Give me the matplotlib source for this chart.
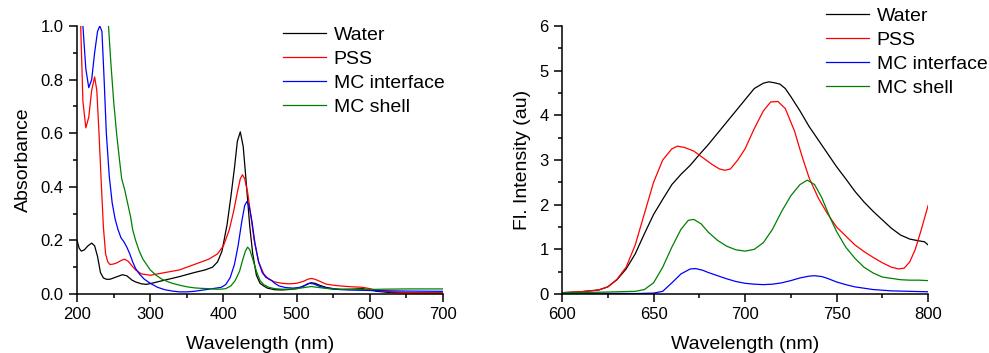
import numpy as np
import matplotlib
matplotlib.use('Agg')
import matplotlib.pyplot as plt
from matplotlib.ticker import MultipleLocator

plt.rcParams['font.family'] = ['Liberation Sans', 'DejaVu Sans']

labels = ['Water', 'PSS', 'MC interface', 'MC shell']
colors = ['#000000', '#ff0000', '#0000ff', '#008000']

# absorbance spectra (wavelength nm, absorbance)
abs_water_x = [200, 203, 206, 210, 215, 220, 224, 228, 232, 236, 240, 245, 250, 255, 262, 268, 275, 280, 288, 295,
               305, 320, 340, 360, 375, 385, 392, 398, 405, 410, 415, 419, 423, 427, 431, 436, 440, 445, 450, 455,
               460, 470, 480, 490, 500, 510, 515, 520, 525, 532, 540, 550, 560, 575, 590, 600, 610, 625, 640, 670, 700]
abs_water_y = [0.20, 0.17, 0.16, 0.165, 0.18, 0.19, 0.18, 0.14, 0.08, 0.06, 0.055, 0.055, 0.06, 0.065, 0.072, 0.068,
               0.052, 0.045, 0.038, 0.036, 0.042, 0.052, 0.065, 0.08, 0.09, 0.1, 0.12, 0.16, 0.26, 0.36, 0.47, 0.57,
               0.605, 0.55, 0.42, 0.25, 0.15, 0.07, 0.04, 0.03, 0.022, 0.016, 0.015, 0.017, 0.02, 0.03, 0.038, 0.042,
               0.04, 0.032, 0.025, 0.02, 0.017, 0.018, 0.02, 0.015, 0.01, 0.006, 0.005, 0.004, 0.004]

abs_pss_x = [200, 203, 205, 208, 212, 216, 220, 224, 227, 230, 233, 236, 239, 242, 245, 250, 255, 260, 265, 270,
             275, 280, 288, 300, 320, 340, 360, 380, 392, 400, 408, 414, 419, 423, 426, 429, 433, 437, 442, 448,
             455, 462, 470, 480, 490, 500, 510, 515, 520, 525, 532, 540, 550, 560, 575, 590, 600, 610, 630, 660, 700]
abs_pss_y = [1.6, 1.3, 1.0, 0.72, 0.62, 0.66, 0.76, 0.81, 0.76, 0.6, 0.42, 0.25, 0.15, 0.12, 0.11, 0.112, 0.117,
             0.125, 0.13, 0.122, 0.105, 0.09, 0.075, 0.07, 0.08, 0.09, 0.11, 0.13, 0.15, 0.18, 0.24, 0.31, 0.38,
             0.43, 0.445, 0.43, 0.38, 0.3, 0.2, 0.12, 0.075, 0.055, 0.045, 0.04, 0.038, 0.04, 0.048, 0.055, 0.058,
             0.055, 0.047, 0.037, 0.033, 0.03, 0.027, 0.025, 0.02, 0.013, 0.008, 0.005, 0.004]

abs_mci_x = [200, 204, 208, 212, 216, 220, 224, 228, 231, 234, 237, 240, 244, 248, 252, 256, 260, 264, 268, 272,
             276, 280, 285, 292, 300, 310, 320, 330, 340, 350, 360, 370, 380, 390, 397, 403, 409, 415, 420, 425,
             429, 432, 435, 439, 443, 448, 453, 458, 462, 466, 470, 476, 485, 495, 505, 512, 518, 524, 530, 540,
             550, 570, 600, 650, 700]
abs_mci_y = [1.4, 1.2, 1.0, 0.84, 0.77, 0.8, 0.9, 0.98, 1.0, 0.98, 0.8, 0.6, 0.44, 0.34, 0.28, 0.24, 0.21, 0.195,
             0.175, 0.15, 0.12, 0.095, 0.075, 0.055, 0.04, 0.025, 0.016, 0.011, 0.008, 0.008, 0.01, 0.014, 0.018,
             0.022, 0.025, 0.035, 0.06, 0.11, 0.18, 0.27, 0.33, 0.345, 0.33, 0.27, 0.19, 0.12, 0.08, 0.062, 0.057,
             0.05, 0.04, 0.03, 0.024, 0.022, 0.025, 0.033, 0.04, 0.037, 0.03, 0.022, 0.018, 0.015, 0.013, 0.011, 0.01]

abs_mcs_x = [230, 235, 240, 243, 246, 250, 254, 258, 261, 265, 269, 273, 276, 280, 285, 290, 295, 300, 308, 316,
             325, 330, 340, 350, 360, 370, 380, 390, 396, 403, 410, 416, 422, 426, 430, 433, 436, 440, 445, 450,
             455, 462, 470, 480, 490, 500, 510, 520, 528, 540, 550, 560, 580, 600, 620, 650, 700]
abs_mcs_y = [1.8, 1.5, 1.2, 1.0, 0.87, 0.72, 0.6, 0.5, 0.43, 0.39, 0.34, 0.29, 0.24, 0.2, 0.16, 0.13, 0.11, 0.09,
             0.07, 0.055, 0.045, 0.04, 0.033, 0.027, 0.023, 0.021, 0.02, 0.018, 0.018, 0.02, 0.03, 0.05, 0.085,
             0.125, 0.16, 0.175, 0.165, 0.13, 0.085, 0.05, 0.035, 0.025, 0.02, 0.018, 0.018, 0.02, 0.024, 0.028,
             0.025, 0.021, 0.019, 0.018, 0.017, 0.017, 0.018, 0.019, 0.019]

# fluorescence spectra (wavelength nm, intensity au)
fl_water_x = [600, 610, 620, 625, 630, 635, 640, 645, 650, 655, 660, 665, 670, 675, 680, 685, 690, 695, 700, 705,
              710, 713, 716, 719, 722, 725, 730, 735, 740, 745, 750, 755, 760, 765, 770, 775, 780, 785, 790, 795,
              798, 800]
fl_water_y = [0.03, 0.05, 0.09, 0.16, 0.32, 0.56, 0.9, 1.35, 1.78, 2.12, 2.45, 2.68, 2.88, 3.12, 3.35, 3.6, 3.85,
              4.1, 4.35, 4.6, 4.72, 4.75, 4.73, 4.7, 4.6, 4.42, 4.1, 3.75, 3.45, 3.15, 2.85, 2.58, 2.3, 2.06, 1.85,
              1.66, 1.47, 1.32, 1.23, 1.19, 1.17, 1.1]

fl_pss_x = [600, 610, 620, 625, 630, 635, 640, 645, 650, 655, 660, 663, 667, 672, 677, 682, 686, 689, 692, 696,
            700, 705, 710, 714, 718, 722, 727, 731, 735, 740, 745, 750, 755, 760, 765, 770, 775, 780, 784, 787,
            790, 793, 796, 800]
fl_pss_y = [0.03, 0.05, 0.09, 0.16, 0.33, 0.6, 1.1, 1.8, 2.5, 3.0, 3.25, 3.31, 3.28, 3.2, 3.05, 2.9, 2.8, 2.77,
            2.8, 3.0, 3.25, 3.7, 4.1, 4.3, 4.31, 4.15, 3.65, 3.1, 2.6, 2.15, 1.8, 1.5, 1.3, 1.1, 0.95, 0.82, 0.7,
            0.6, 0.56, 0.58, 0.72, 1.0, 1.4, 1.98]

fl_mci_x = [600, 620, 640, 650, 655, 660, 665, 670, 673, 677, 680, 685, 690, 695, 700, 705, 710, 715, 720, 725,
            730, 735, 738, 742, 745, 750, 755, 760, 765, 770, 780, 790, 800]
fl_mci_y = [0.02, 0.015, 0.01, 0.02, 0.06, 0.25, 0.45, 0.56, 0.57, 0.53, 0.48, 0.41, 0.34, 0.28, 0.24, 0.22, 0.21,
            0.22, 0.25, 0.3, 0.36, 0.4, 0.41, 0.39, 0.35, 0.27, 0.21, 0.16, 0.13, 0.1, 0.07, 0.06, 0.05]

fl_mcs_x = [600, 620, 640, 645, 650, 655, 660, 665, 669, 672, 676, 680, 685, 690, 695, 700, 705, 710, 715, 720,
            725, 730, 734, 738, 742, 746, 750, 755, 760, 765, 770, 775, 780, 785, 790, 795, 800]
fl_mcs_y = [0.03, 0.04, 0.06, 0.1, 0.25, 0.6, 1.05, 1.45, 1.65, 1.67, 1.57, 1.38, 1.2, 1.07, 0.99, 0.96, 1.0, 1.15,
            1.45, 1.85, 2.2, 2.45, 2.55, 2.45, 2.15, 1.75, 1.4, 1.05, 0.8, 0.6, 0.47, 0.38, 0.35, 0.32, 0.31,
            0.31, 0.3]

fig = plt.figure(figsize=(9.89, 3.53), dpi=100)
ax1 = fig.add_axes([0.0779, 0.1671, 0.3701, 0.7592])
ax2 = fig.add_axes([0.5683, 0.1671, 0.3701, 0.7592])

abs_data = [(abs_water_x, abs_water_y), (abs_pss_x, abs_pss_y), (abs_mci_x, abs_mci_y), (abs_mcs_x, abs_mcs_y)]
fl_data = [(fl_water_x, fl_water_y), (fl_pss_x, fl_pss_y), (fl_mci_x, fl_mci_y), (fl_mcs_x, fl_mcs_y)]

for (x, y), c, lab in zip(abs_data, colors, labels):
    ax1.plot(x, y, color=c, lw=0.9, label=lab)
for (x, y), c, lab in zip(fl_data, colors, labels):
    ax2.plot(x, y, color=c, lw=0.9, label=lab)

ax1.set_xlim(200, 700)
ax1.set_ylim(0, 1.0)
ax1.xaxis.set_major_locator(MultipleLocator(100))
ax1.xaxis.set_minor_locator(MultipleLocator(50))
ax1.yaxis.set_major_locator(MultipleLocator(0.2))
ax1.yaxis.set_minor_locator(MultipleLocator(0.1))
ax1.yaxis.set_major_formatter(matplotlib.ticker.FormatStrFormatter('%.1f'))
ax1.set_xlabel('Wavelength (nm)', fontsize=14, labelpad=10)
ax1.set_ylabel('Absorbance', fontsize=14, labelpad=6)

ax2.set_xlim(600, 800)
ax2.set_ylim(0, 6)
ax2.xaxis.set_major_locator(MultipleLocator(50))
ax2.xaxis.set_minor_locator(MultipleLocator(25))
ax2.yaxis.set_major_locator(MultipleLocator(1))
ax2.yaxis.set_minor_locator(MultipleLocator(0.5))
ax2.set_xlabel('Wavelength (nm)', fontsize=14, labelpad=10)
ax2.set_ylabel('Fl. Intensity (au)', fontsize=14, labelpad=6)

for ax in (ax1, ax2):
    ax.spines['top'].set_visible(False)
    ax.spines['right'].set_visible(False)
    for s in ('left', 'bottom'):
        ax.spines[s].set_linewidth(1.1)
    ax.tick_params(which='major', direction='out', length=6, width=1.1, labelsize=12)
    ax.tick_params(which='minor', direction='out', length=3, width=1.1)

ax1.legend(loc='upper left', bbox_to_anchor=(283 / 989, 1 - 26 / 353), bbox_transform=fig.transFigure,
           frameon=False, fontsize=14, handlelength=2.2, handletextpad=0.4, labelspacing=0.33,
           borderpad=0, borderaxespad=0)
ax2.legend(loc='upper left', bbox_to_anchor=(826 / 989, 1 - 7 / 353), bbox_transform=fig.transFigure,
           frameon=False, fontsize=14, handlelength=2.2, handletextpad=0.4, labelspacing=0.33,
           borderpad=0, borderaxespad=0)

fig.savefig('out.png', dpi=100)
